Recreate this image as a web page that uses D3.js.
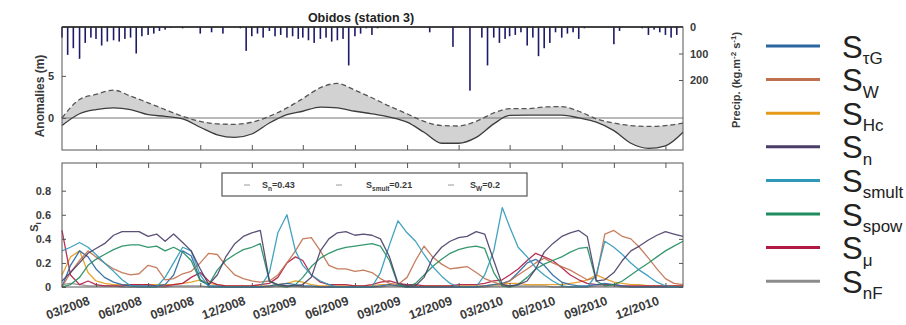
<!DOCTYPE html>
<html><head><meta charset="utf-8">
<script src="https://cdn.jsdelivr.net/npm/d3@7"></script>
<style>
body{margin:0;background:#fff}
svg{display:block}
text{font-family:"Liberation Sans",Arial,sans-serif}
</style>
</head><body>
<svg id="c" width="906" height="325"></svg>
<script>
// ---------------- data ----------------
const chartTitle = "Obidos (station 3)";
const xTickLabels = ["03/2008","06/2008","09/2008","12/2008","03/2009","06/2009","09/2009","12/2009","03/2010","06/2010","09/2010","12/2010"];
const anomTicks = [0, 5];
const precipTicks = [0, 100, 200];
const siTicks = [0, 0.2, 0.4, 0.6, 0.8];

// monthly anomalies (m), Jan 2008 .. Jan 2011
const anomSolid = [-0.9,0.5,1.0,1.2,1.0,0.4,0.2,-0.1,-1.1,-2.0,-2.3,-1.9,-0.6,0.4,0.8,1.3,1.2,0.8,0.5,0.1,-0.5,-1.7,-3.0,-3.0,-2.3,-0.7,0.3,0.35,0.35,0.35,0.0,-0.5,-1.5,-3.0,-3.6,-3.3,-1.7];
const anomDashed = [0.0,2.2,2.8,3.3,2.6,1.8,1.0,0.2,-0.4,-0.7,-0.75,-0.5,0.2,1.2,2.3,3.6,4.1,3.3,2.4,1.4,0.5,-0.4,-0.9,-0.95,-0.4,0.6,1.1,1.1,1.3,1.35,0.8,-0.1,-0.6,-0.9,-1.0,-0.9,-0.6];

// dekadal precipitation (kg m-2), Jan 2008 .. Dec 2010
const precip = [40,105,80,120,60,40,45,70,55,50,55,45,40,100,35,30,25,15,10,3,0,5,0,0,25,0,20,0,25,0,0,5,90,35,25,40,
  15,35,30,40,35,45,40,50,60,45,40,55,50,45,145,35,25,5,30,5,0,3,0,0,0,0,0,0,20,0,0,0,75,0,0,240,
  0,40,145,40,60,45,35,30,20,70,40,110,80,60,20,40,25,20,45,5,0,0,0,0,65,15,0,0,0,5,30,10,20,30,40,30];

// half-monthly sensitivity indices S_i
const sTauG = [0,0.18,0.3,0.25,0.15,0.08,0.04,0.02,0.01,0.01, 0.01,0.01,0.02,0.1,0.3,0.26,0.06,0.01,0.01,0, 0,0,0,0,0.01,0.02,0.03,0.02,0.01,0.01, 0,0,0,0,0,0,0,0.01,0.02,0.01, 0,0,0,0,0,0,0,0,0,0.01, 0.02,0.03,0.05,0.12,0.2,0.23,0.18,0.1,0.04,0.02, 0.01,0.01,0.02,0.03,0.02,0.01,0,0,0,0, 0,0,0];
const sW = [0,0.12,0.22,0.3,0.25,0.2,0.15,0.12,0.1,0.11, 0.18,0.16,0.06,0.07,0.11,0.13,0.2,0.28,0.27,0.18, 0.1,0.07,0.05,0.04,0.05,0.1,0.2,0.3,0.4,0.41, 0.3,0.18,0.15,0.15,0.13,0.14,0.12,0.07,0.03,0.02, 0.08,0.22,0.34,0.25,0.19,0.15,0.16,0.17,0.12,0.07, 0.04,0.02,0.05,0.1,0.15,0.2,0.24,0.2,0.17,0.14, 0.1,0.06,0.08,0.44,0.47,0.42,0.4,0.33,0.24,0.15, 0.07,0.03,0.02];
const sHc = [0.1,0.25,0.3,0.12,0.05,0.03,0.02,0.02,0.02,0.02, 0.02,0.02,0.02,0.02,0.03,0.04,0.06,0.03,0.02,0.01, 0.01,0.01,0.01,0.01,0.01,0.02,0.03,0.05,0.04,0.02, 0.01,0.01,0.01,0.01,0.01,0.01,0.01,0.02,0.02,0.01, 0.01,0.01,0.01,0.01,0.01,0.01,0.01,0.01,0.01,0.01, 0.02,0.02,0.03,0.03,0.02,0.02,0.02,0.02,0.02,0.03, 0.04,0.06,0.1,0.07,0.04,0.03,0.02,0.02,0.01,0.01, 0.01,0.01,0.01];
const sN = [0.05,0.12,0.2,0.28,0.32,0.36,0.43,0.46,0.46,0.46, 0.42,0.44,0.38,0.44,0.37,0.3,0.15,0.02,0.1,0.25, 0.36,0.42,0.45,0.47,0.05,0.02,0.01,0.01,0.02,0.08, 0.3,0.4,0.45,0.46,0.43,0.44,0.43,0.4,0.25,0.03, 0.01,0.01,0.08,0.24,0.33,0.38,0.41,0.42,0.46,0.44, 0.22,0.02,0.01,0.02,0.05,0.15,0.29,0.36,0.42,0.45, 0.47,0.42,0.05,0.06,0.12,0.22,0.3,0.34,0.39,0.43, 0.46,0.44,0.42];
const sSmult = [0.3,0.33,0.37,0.33,0.27,0.2,0.13,0.06,0.01,0, 0,0,0.08,0.2,0.33,0.3,0.1,0,0,0, 0,0,0,0,0.12,0.45,0.6,0.3,0.18,0.1, 0.05,0.02,0,0,0,0,0,0.12,0.35,0.55, 0.45,0.38,0.27,0.17,0.09,0.03,0,0,0,0.1, 0.3,0.66,0.5,0.33,0.25,0.16,0.1,0.05,0.01,0, 0,0,0.1,0.38,0.33,0.27,0.2,0.14,0.09,0.04, 0.01,0,0];
const sSpow = [0,0.02,0.08,0.18,0.23,0.27,0.31,0.34,0.35,0.35, 0.33,0.34,0.3,0.33,0.29,0.22,0.05,0.02,0.14,0.22, 0.27,0.31,0.33,0.36,0.05,0.01,0,0.02,0.08,0.17, 0.24,0.28,0.31,0.33,0.34,0.35,0.36,0.34,0.22,0.02, 0,0.03,0.1,0.17,0.23,0.28,0.31,0.33,0.34,0.32, 0.12,0.01,0,0.02,0.08,0.15,0.19,0.22,0.25,0.29, 0.32,0.33,0.05,0.01,0.02,0.05,0.1,0.15,0.2,0.25, 0.3,0.34,0.38];
const sMu = [0.47,0.1,0.02,0.05,0.02,0.01,0.01,0.01,0.02,0.02, 0.02,0.01,0.01,0.02,0.03,0.08,0.12,0.05,0.02,0.01, 0.01,0.01,0.01,0.02,0.03,0.08,0.2,0.25,0.22,0.1, 0.04,0.02,0.02,0.02,0.01,0.01,0.02,0.04,0.05,0.03, 0.02,0.02,0.01,0.01,0.01,0.01,0.02,0.02,0.02,0.03, 0.05,0.06,0.1,0.15,0.22,0.28,0.25,0.22,0.16,0.1, 0.06,0.03,0.02,0.02,0.02,0.01,0.01,0.01,0.01,0.01, 0.01,0.01,0.01];
const sNF = [0.02,0.03,0.02,0.01,0.01,0.01,0.01,0,0,0, 0,0,0,0.01,0.01,0.01,0.01,0,0,0, 0,0,0,0,0,0.01,0.01,0.01,0,0, 0,0,0,0,0,0,0,0,0.01,0.01, 0,0,0,0,0,0,0,0,0,0, 0.01,0.01,0.01,0.01,0.01,0.01,0.01,0,0,0, 0,0,0.01,0.01,0.01,0,0,0,0,0, 0,0,0];

const seriesNames = ["τG","W","Hc","n","smult","spow","μ","nF"];
const seriesColors = ["#2a66a0","#c0704e","#e59a1c","#4a3d68","#2f98b8","#1f8c5e","#b01a42","#8c8c8c"];
const seriesData = [sTauG, sW, sHc, sN, sSmult, sSpow, sMu, sNF];
const boxLegendNames = ["n","smult","W"];
const boxLegendValues = ["0.43","0.21","0.2"];

// ---------------- dates ----------------
const monthDates = d3.range(anomSolid.length).map(m => new Date(2008, m, 1));
const halfDates = d3.range(sN.length).map(i => new Date(2008, Math.floor(i/2), i%2 ? 16 : 1));
const dekadDates = d3.range(precip.length).map(k => new Date(2008, Math.floor(k/3), 1 + 10*(k%3)));
const parseTick = d3.timeParse("%m/%Y");
const tickDates = xTickLabels.map(parseTick);

// ---------------- layout ----------------
const svg = d3.select("#c");
const L = 62, R = 683;
const topT = 27, topB = 150, botT = 163, botB = 287;
const x = d3.scaleTime().domain([new Date(2008,0,1), new Date(2011,0,1)]).range([L, R]);
const yA = d3.scaleLinear().domain([-3.8, 10.8]).range([topB, topT]);
const yP = d3.scaleLinear().domain([0, 464]).range([topT, topB]);
const yS = d3.scaleLinear().domain([0, 1.03]).range([botB, botT]);

const axisCol = "#555";
const labCol = "#3a3a3a";

function styleAxis(g){
  g.selectAll("path.domain").remove();
  g.selectAll(".tick line").attr("stroke", axisCol);
  g.selectAll(".tick text").attr("fill", labCol).attr("font-size", 11).attr("font-weight","bold");
}

// ---------------- top panel ----------------
const gTop = svg.append("g");
// precipitation bars
gTop.selectAll("rect.p").data(precip).join("rect")
  .attr("x", (d,i) => x(dekadDates[i]) - 0.8)
  .attr("y", yP(0))
  .attr("width", 1.6)
  .attr("height", d => yP(d) - yP(0))
  .attr("fill", "#1d1b68");

// band between simulations
const band = d3.area().x((d,i)=>x(monthDates[i])).y0(d=>yA(d[0])).y1(d=>yA(d[1])).curve(d3.curveMonotoneX);
gTop.append("path").datum(anomSolid.map((v,i)=>[v, anomDashed[i]]))
  .attr("d", band).attr("fill", "#d2d2d2");
// zero line
gTop.append("line").attr("x1", L).attr("x2", R).attr("y1", yA(0)).attr("y2", yA(0))
  .attr("stroke", "#777").attr("stroke-width", 1.2);
const lineA = d3.line().x((d,i)=>x(monthDates[i])).y(d=>yA(d)).curve(d3.curveMonotoneX);
gTop.append("path").datum(anomSolid).attr("d", lineA).attr("fill","none").attr("stroke","#3c3c3c").attr("stroke-width",1.3);
gTop.append("path").datum(anomDashed).attr("d", lineA).attr("fill","none").attr("stroke","#555").attr("stroke-width",1.3).attr("stroke-dasharray","5,3");

// frame
gTop.append("rect").attr("x", L).attr("y", topT).attr("width", R-L).attr("height", topB-topT)
  .attr("fill","none").attr("stroke", axisCol).attr("stroke-width",1);
gTop.append("line").attr("x1", L).attr("x2", R).attr("y1", topT).attr("y2", topT).attr("stroke","#222").attr("stroke-width",1.5);

// axes
gTop.append("g").attr("transform", `translate(0,${topB})`)
  .call(d3.axisBottom(x).tickValues(tickDates).tickSize(-5).tickFormat("")).call(styleAxis);
gTop.append("g").attr("transform", `translate(${L},0)`)
  .call(d3.axisLeft(yA).tickValues(anomTicks).tickSize(-4).tickPadding(8).tickFormat(d3.format("d"))).call(styleAxis);
gTop.append("g").attr("transform", `translate(${R},0)`)
  .call(d3.axisRight(yP).tickValues(precipTicks).tickSize(-4).tickPadding(7).tickFormat(d3.format("d"))).call(styleAxis);

svg.append("text").attr("x", 361).attr("y", 22).attr("text-anchor","middle")
  .attr("font-size", 12.5).attr("font-weight","bold").attr("fill","#222").text(chartTitle);
svg.append("text").attr("transform", "translate(44,96) rotate(-90)").attr("text-anchor","middle")
  .attr("font-size", 12).attr("font-weight","bold").attr("fill", labCol).text("Anomalies (m)");
const pl = svg.append("text").attr("transform", "translate(740,80) rotate(-90)").attr("text-anchor","middle")
  .attr("font-size", 11).attr("font-weight","bold").attr("fill", labCol);
pl.append("tspan").text("Precip. (kg.m");
pl.append("tspan").attr("font-size", 8).attr("dy", -4).text("-2");
pl.append("tspan").attr("dy", 4).text(" s");
pl.append("tspan").attr("font-size", 8).attr("dy", -4).text("-1");
pl.append("tspan").attr("dy", 4).text(")");

// ---------------- bottom panel ----------------
const gBot = svg.append("g");
const lineS = d3.line().x((d,i)=>x(halfDates[i])).y(d=>yS(d));
const drawOrder = [7,2,6,0,1,5,4,3];
drawOrder.forEach(k => {
  gBot.append("path").datum(seriesData[k]).attr("d", lineS).attr("fill","none")
    .attr("stroke", seriesColors[k]).attr("stroke-width", 1.3).attr("stroke-opacity", 0.9)
    .attr("stroke-linejoin","round");
});
gBot.append("rect").attr("x", L).attr("y", botT).attr("width", R-L).attr("height", botB-botT)
  .attr("fill","none").attr("stroke", axisCol).attr("stroke-width",1);

gBot.append("g").attr("transform", `translate(0,${botT})`)
  .call(d3.axisTop(x).tickValues(tickDates).tickSize(-5).tickFormat("")).call(styleAxis);
gBot.append("g").attr("transform", `translate(${R},0)`)
  .call(d3.axisRight(yS).tickValues(siTicks).tickSize(-4).tickFormat("")).call(styleAxis);
gBot.append("g").attr("transform", `translate(${L},0)`)
  .call(d3.axisLeft(yS).tickValues(siTicks).tickSize(-4).tickPadding(11).tickFormat(d => d===0 ? "0" : d3.format(".1f")(d))).call(styleAxis);
const gx = gBot.append("g").attr("transform", `translate(0,${botB})`)
  .call(d3.axisBottom(x).tickValues(tickDates).tickSize(-4).tickFormat((d,i)=>xTickLabels[i])).call(styleAxis);
gx.selectAll(".tick text").attr("text-anchor","end").attr("dy", null).attr("y", null)
  .attr("transform", "translate(-6,17) rotate(-20)").attr("font-size", 12.5);

const sl = svg.append("text").attr("transform", "translate(38,227) rotate(-90)").attr("text-anchor","middle")
  .attr("font-size", 11).attr("font-weight","bold").attr("fill", labCol);
sl.append("tspan").text("S");
sl.append("tspan").attr("font-size", 8).attr("dy", 3).text("i");

// in-plot legend box
const lb = gBot.append("g");
lb.append("rect").attr("x", 222).attr("y", 173).attr("width", 305).attr("height", 23)
  .attr("fill","#fff").attr("stroke", axisCol).attr("stroke-width",1.2);
const lbPos = [[244, 262], [336, 366], [448, 470]];
boxLegendNames.forEach((n,i) => {
  lb.append("line").attr("x1", lbPos[i][0]).attr("x2", lbPos[i][0]+6).attr("y1",185).attr("y2",185)
    .attr("stroke", "#999").attr("stroke-width", 1);
  const t = lb.append("text").attr("x", lbPos[i][1]).attr("y", 188).attr("font-size", 9)
    .attr("font-weight","bold").attr("fill", labCol);
  t.append("tspan").text("S");
  t.append("tspan").attr("font-size", 6.5).attr("dy", 3).text(n);
  t.append("tspan").attr("dy", -3).text("=" + boxLegendValues[i]);
});

// ---------------- right legend ----------------
const rl = svg.append("g");
seriesNames.forEach((n,i) => {
  const yy = 46 + i*33.6;
  rl.append("line").attr("x1", 766).attr("x2", 820).attr("y1", yy).attr("y2", yy)
    .attr("stroke", seriesColors[i]).attr("stroke-width", 3);
  const t = rl.append("text").attr("x", 842).attr("y", yy + 11.5)
    .attr("font-family", "'Open Sans', 'DejaVu Sans', sans-serif").attr("font-size", 31).attr("fill", "#222");
  t.append("tspan").text("S");
  t.append("tspan").attr("font-size", 17).attr("dy", 6.5).text(n);
});
</script>
</body></html>
